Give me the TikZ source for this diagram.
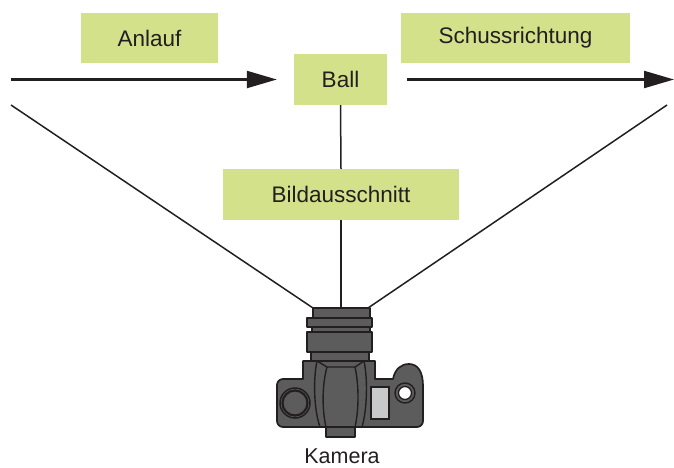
\documentclass[tikz,border=0pt]{standalone}
\usepackage{fontspec}
\setmainfont{Liberation Sans}
\usetikzlibrary{arrows.meta}
\definecolor{labelgreen}{RGB}{212,225,139}
\definecolor{ink}{RGB}{35,31,32}
\definecolor{bodygray}{RGB}{92,92,92}
\definecolor{windowgray}{RGB}{200,201,203}
\begin{document}
\begin{tikzpicture}[x=1pt,y=-1pt,
  labelbox/.style={fill=labelgreen,draw=none,inner sep=0pt,text=ink,
    font=\fontsize{22.5}{24}\selectfont},
  flow/.style={draw=ink,line width=2.2pt,-{Triangle[length=30pt,width=17pt]}},
  sight/.style={draw=ink,line width=1.5pt},
  part/.style={fill=bodygray,draw=ink,line width=1.7pt,line join=round},
  detail/.style={draw=ink,line width=1.4pt}]
\useasboundingbox (0,0) rectangle (674,467);

% label boxes
\node[labelbox,minimum width=137pt,minimum height=50pt] (anlauf) at (149.5,38) {Anlauf};
\node[labelbox,minimum width=93pt,minimum height=51pt] (ball) at (340.5,79.5) {Ball};
\node[labelbox,minimum width=229pt,minimum height=50pt] (schuss) at (515.5,38) {Schussrichtung};
\node[labelbox,minimum width=236pt,minimum height=51pt] (bild) at (341,194.5) {Bildausschnitt};

% free ends of the connectors
\coordinate (runstart) at (11,79.5);
\coordinate (shotend) at (674,79.5);
\coordinate (viewleft) at (11,105);
\coordinate (viewright) at (667,105);
\coordinate (lensleft) at (313,308);
\coordinate (lensmid) at (341,308);
\coordinate (lensright) at (368,308);

% run-up and shot direction
\draw[flow,shorten >=17pt] (runstart) -- (ball.west);
\draw[flow,shorten <=20pt] (ball.east) -- (shotend);

% field of view
\draw[sight] (viewleft) -- (lensleft);
\draw[sight] (viewright) -- (lensright);
\draw[sight] (ball.south) -- (bild.north);
\draw[sight] (bild.south) -- (lensmid);

% camera: lens rings
\draw[part] (311,352) rectangle (369,362);
\draw[part] (307,332) rectangle (372,352);
\draw[part] (312,327) rectangle (370,332);
\draw[part] (307,318) rectangle (372,327);
\draw[part] (313,308) rectangle (370,318);

% camera: body with prism housing and right-hand hump
\draw[part] (303,361) -- (375,361) -- (375,379) -- (393,379)
  .. controls (395,369) and (401,364) .. (409,364)
  .. controls (418,364) and (423,372) .. (423,386)
  -- (423,421) arc[start angle=0,end angle=90,radius=6] -- (283,427)
  arc[start angle=90,end angle=180,radius=6] -- (277,385)
  arc[start angle=180,end angle=270,radius=6] -- (303,379) -- cycle;

% camera: pentaprism hood and eyepiece
\draw[part] (326,427) rectangle (355,437);
\draw[detail] (317,361) .. controls (313,380) and (314,410) .. (320,427);
\draw[detail] (364,361) .. controls (368,380) and (367,410) .. (362,427);
\draw[detail] (317,361) -- (327,367) -- (355,367) -- (364,361);
\draw[detail] (327,367) .. controls (322,385) and (322,410) .. (326,427);
\draw[detail] (355,367) .. controls (359,385) and (359,410) .. (355,427);

% camera: dial, display window and button
\draw[draw=ink,line width=1.5pt,fill=bodygray] (295,403) circle[radius=15];
\draw[draw=ink,line width=2.2pt] (295,403) circle[radius=12.5];
\draw[draw=ink,line width=1.4pt,fill=windowgray] (371,387) rectangle (389,419);
\draw[draw=ink,line width=1.4pt,fill=bodygray] (405,393) circle[radius=10];
\draw[draw=ink,line width=1.3pt,fill=white] (405,393) circle[radius=6.5];

% caption
\node[text=ink,font=\fontsize{21.5}{24}\selectfont,inner sep=0pt] (kamera) at (342,456) {Kamera};
\end{tikzpicture}
\end{document}
